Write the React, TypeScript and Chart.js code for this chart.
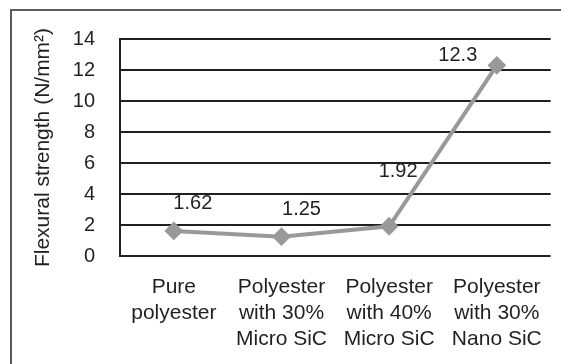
import React, { useEffect, useRef } from "react";
import { Chart, registerables } from "chart.js";

Chart.register(...registerables);

const categories: string[][] = [
  ["Pure", "polyester"],
  ["Polyester", "with 30%", "Micro SiC"],
  ["Polyester", "with 40%", "Micro SiC"],
  ["Polyester", "with 30%", "Nano SiC"],
];
const strengthValues: number[] = [1.62, 1.25, 1.92, 12.3];
const valueLabels: string[] = ["1.62", "1.25", "1.92", "12.3"];
const yTicks = { min: 0, max: 14, step: 2 };
const yTitle = "Flexural strength (N/mm²)";

// label placement offsets (pixels) relative to each point
const labelOffsets: [number, number][] = [
  [19, -27],
  [20, -27],
  [9, -55],
  [-39, -10],
];

const FONT = "Arial, 'Liberation Sans', sans-serif";
const TEXT = "#231f20";

const framePlugin = {
  id: "frame",
  beforeDraw(chart: any) {
    const ctx = chart.ctx;
    ctx.save();
    ctx.fillStyle = "#ffffff";
    ctx.fillRect(0, 0, chart.width, chart.height);
    ctx.strokeStyle = "#5a5a5a";
    ctx.lineWidth = 2;
    ctx.strokeRect(11, 10, 700, 500);
    ctx.restore();
  },
};

const labelPlugin = {
  id: "valueLabels",
  afterDatasetsDraw(chart: any) {
    const ctx = chart.ctx;
    const meta = chart.getDatasetMeta(0);
    ctx.save();
    ctx.font = `20px ${FONT}`;
    ctx.fillStyle = TEXT;
    ctx.textAlign = "center";
    ctx.textBaseline = "middle";
    meta.data.forEach((pt: any, i: number) => {
      const off = labelOffsets[i];
      ctx.fillText(valueLabels[i], pt.x + off[0], pt.y + off[1]);
    });
    ctx.restore();
  },
};

export default function App() {
  const ref = useRef<HTMLCanvasElement>(null);
  useEffect(() => {
    if (!ref.current) return;
    const chart = new Chart(ref.current, {
      type: "line",
      data: {
        labels: categories,
        datasets: [
          {
            data: strengthValues,
            borderColor: "#999999",
            backgroundColor: "#999999",
            borderWidth: 4,
            pointStyle: "rectRot",
            pointRadius: 8,
            pointBorderWidth: 2,
            pointBorderColor: "#999999",
            pointBackgroundColor: "#999999",
            tension: 0,
          },
        ],
      },
      options: {
        responsive: false,
        animation: false,
        devicePixelRatio: 1,
        layout: { padding: { top: 39, right: 6, left: 0, bottom: 0 } },
        plugins: {
          legend: { display: false },
          tooltip: { enabled: false },
          title: { display: false },
        },
        scales: {
          x: {
            offset: true,
            grid: { display: false, drawTicks: false },
            border: { display: false },
            ticks: {
              color: TEXT,
              font: { family: FONT, size: 21, lineHeight: 1.24 },
              padding: 18,
              maxRotation: 0,
              autoSkip: false,
            },
            afterFit(scale: any) {
              scale.height = 108;
            },
          },
          y: {
            min: yTicks.min,
            max: yTicks.max,
            ticks: {
              stepSize: yTicks.step,
              color: TEXT,
              font: { family: FONT, size: 20 },
              padding: 25,
            },
            grid: { color: TEXT, lineWidth: 2, drawTicks: false },
            border: { display: true, color: TEXT, width: 2 },
            title: {
              display: true,
              text: yTitle,
              color: TEXT,
              font: { family: FONT, size: 21 },
              padding: { top: 31, bottom: 0 },
            },
            afterFit(scale: any) {
              scale.width = 120;
            },
          },
        },
      },
      plugins: [framePlugin, labelPlugin],
    });
    return () => chart.destroy();
  }, []);
  return (
    <div style={{ position: "fixed", left: 0, top: 0, width: 561, height: 364 }}>
      <canvas ref={ref} width={561} height={364} style={{ display: "block" }} />
    </div>
  );
}
